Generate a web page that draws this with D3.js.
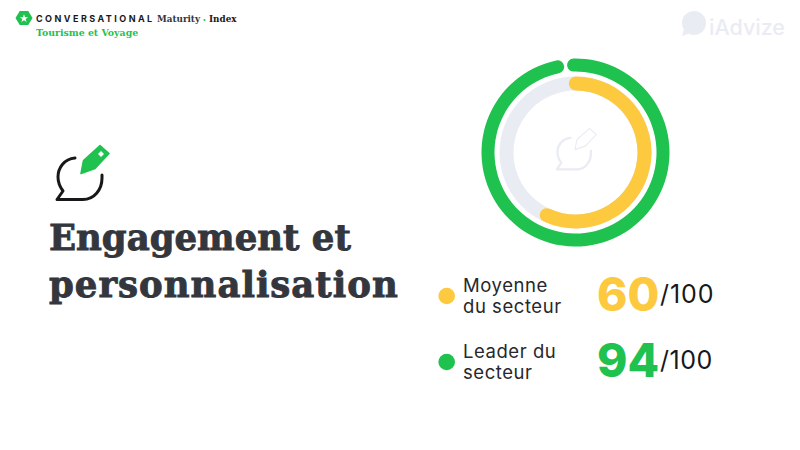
<!DOCTYPE html>
<html>
<head>
<meta charset="utf-8">
<script src="https://cdnjs.cloudflare.com/ajax/libs/d3/7.8.5/d3.min.js"></script>
<style>
    html, body { margin: 0; padding: 0; background: #fff; }
    svg { display: block; }
    .serif { font-family: "DejaVu Serif", serif; font-weight: 700; }
    .sans { font-family: Inter, "Open Sans", sans-serif; }
</style>
</head>
<body>
<svg id="chart" width="800" height="450"></svg>
<script>
var series = ["Moyenne du secteur", "Leader du secteur"];
var scores = [60, 94];
var maxScore = 100;
var legendLines = [["Moyenne", "du secteur"], ["Leader du", "secteur"]];
var titleLines = ["Engagement et", "personnalisation"];
var colors = ["#fdc93f", "#1fc14f"];

var GREY = "#eaecf4", DARK = "#33363d", BLACK = "#17181a";
var svg = d3.select("#chart");
var cx = 575.5, cy = 152.5;
var tau = Math.PI * 2;
var startAngle = -5.5 * Math.PI / 180;

// yellow ring follows the 0-100 scale
var innerAngle = d3.scaleLinear().domain([0, maxScore]).range([startAngle, startAngle + tau]);
// in the picture the leader ring closes almost the whole circle, only a small gap left
var outerAngle = d3.scaleLinear().domain([0, scores[1]]).range([startAngle, startAngle + tau - 0.035]);

var innerArc = d3.arc().innerRadius(62).outerRadius(76).cornerRadius(7);
var outerArc = d3.arc().innerRadius(81).outerRadius(94).cornerRadius(6.5);

var rings = svg.append("g").attr("transform", "translate(" + cx + "," + cy + ")");

rings.append("path")
    .attr("d", innerArc.cornerRadius(0)({ startAngle: 0, endAngle: tau }))
    .attr("fill", GREY);
innerArc.cornerRadius(7);

rings.append("path")
    .attr("d", innerArc({ startAngle: innerAngle(0), endAngle: innerAngle(scores[0]) }))
    .attr("fill", colors[0]);

rings.append("path")
    .attr("d", outerArc({ startAngle: outerAngle(0), endAngle: outerAngle(scores[1]) }))
    .attr("fill", colors[1]);

// bubble + pencil icon, drawn at page coordinates then moved for the centre one
function drawIcon(g, bubbleColor, pencilFill, pencilStroke) {
    g.append("path")
        .attr("d", "M75,158 C64,159 58,168 58,177 C58,182 60,187 63,191 L57,199.5 L83,199.5 C94,199.5 102,190 102,178 L102,175")
        .attr("fill", "none")
        .attr("stroke", bubbleColor)
        .attr("stroke-width", 3)
        .attr("stroke-linecap", "round")
        .attr("stroke-linejoin", "round");
    g.append("path")
        .attr("d", "M81,173.5 L83.5,160.5 L100,145.5 L109,153.5 L95,168.5 Z")
        .attr("fill", pencilFill)
        .attr("stroke", pencilStroke)
        .attr("stroke-width", 1.5)
        .attr("stroke-linejoin", "round");
}

var mainIcon = svg.append("g");
drawIcon(mainIcon, BLACK, colors[1], colors[1]);
mainIcon.append("path").attr("d", "M98,154 L101,151 L104,154 L101,157 Z").attr("fill", "#fff");

var ringIcon = svg.append("g").attr("transform", "translate(513.4,17.8) scale(0.76)");
drawIcon(ringIcon, GREY, "#fff", GREY);

// title
svg.selectAll(".title")
    .data(titleLines)
    .enter().append("text")
    .attr("class", "title serif")
    .attr("x", 49)
    .attr("y", function (d, i) { return 250 + i * 47; })
    .attr("font-size", 35.5)
    .attr("letter-spacing", function (d, i) { return i === 0 ? 0 : 1; })
    .attr("fill", DARK)
    .attr("stroke", DARK)
    .attr("stroke-width", 0.9)
    .text(function (d) { return d; });

// legend rows
var rowY = [296, 362];
var rows = svg.selectAll(".row")
    .data(series)
    .enter().append("g")
    .attr("class", "row");

rows.append("circle")
    .attr("cx", 446.7)
    .attr("cy", function (d, i) { return rowY[i]; })
    .attr("r", 8.3)
    .attr("fill", function (d, i) { return colors[i]; });

rows.each(function (d, i) {
    var g = d3.select(this);
    legendLines[i].forEach(function (line, j) {
        g.append("text")
            .attr("class", "sans")
            .attr("x", 463)
            .attr("y", rowY[i] - 4 + j * 21)
            .attr("font-size", 18.5)
            .attr("letter-spacing", 0.55)
            .attr("fill", "#26282c")
            .text(line);
    });
    g.append("text")
        .attr("class", "sans")
        .attr("x", 597)
        .attr("y", rowY[i] + 15)
        .attr("font-size", 46)
        .attr("font-weight", 800)
        .attr("fill", colors[i])
        .text(scores[i]);
    g.append("text")
        .attr("class", "sans")
        .attr("x", 660)
        .attr("y", rowY[i] + 7)
        .attr("font-size", 25)
        .attr("letter-spacing", i === 0 ? 0.9 : 0.5)
        .attr("fill", BLACK)
        .text("/" + maxScore);
});

// header
var hex = d3.range(6).map(function (i) {
    var a = i * Math.PI / 3;
    return [24 + 8.5 * Math.cos(a), 18 + 8 * Math.sin(a)];
});
svg.append("path").attr("d", d3.line().curve(d3.curveLinearClosed)(hex)).attr("fill", colors[1]);
svg.append("path")
    .attr("d", d3.symbol().type(d3.symbolStar).size(22)())
    .attr("transform", "translate(24,18.5)")
    .attr("fill", "#fff");

svg.append("text").attr("class", "sans").attr("x", 36).attr("y", 22)
    .attr("font-size", 9).attr("font-weight", 700).attr("letter-spacing", 2.45)
    .attr("fill", BLACK).text("CONVERSATIONAL");
svg.append("text").attr("class", "serif").attr("x", 157).attr("y", 22)
    .attr("font-size", 8.8).attr("fill", DARK).text("Maturity");
svg.append("circle").attr("cx", 204.5).attr("cy", 20).attr("r", 1).attr("fill", colors[1]);
svg.append("text").attr("class", "serif").attr("x", 209).attr("y", 22)
    .attr("font-size", 8.8).attr("fill", BLACK).text("Index");
svg.append("text").attr("class", "serif").attr("x", 36).attr("y", 36)
    .attr("font-size", 9.4).attr("fill", colors[1]).text("Tourisme et Voyage");

// iAdvize logo
svg.append("circle").attr("cx", 694).attr("cy", 23).attr("r", 12).attr("fill", GREY);
svg.append("path").attr("d", "M684,29 L682,36 L691,33 Z").attr("fill", GREY);
svg.append("text").attr("class", "sans").attr("x", 709).attr("y", 35)
    .attr("font-size", 21.5).attr("font-weight", 500).attr("fill", GREY).text("iAdvize");
</script>
</body>
</html>
